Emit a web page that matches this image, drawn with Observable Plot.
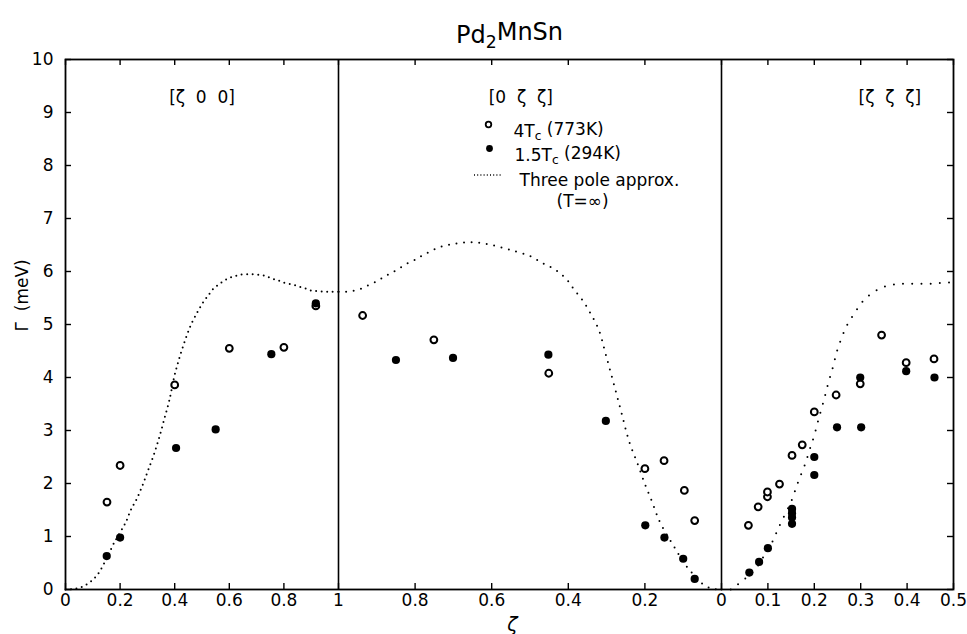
<!DOCTYPE html>
<html><head><meta charset="utf-8">
<script src="https://cdn.jsdelivr.net/npm/d3@7"></script>
<script src="https://cdn.jsdelivr.net/npm/@observablehq/plot@0.6"></script>
<style>body{margin:0;background:#fff;} svg{display:block;}</style>
</head><body><div id="chart"></div>
<script>
// ---------- data (ζ, Γ in meV) ----------
// [ζ 0 0]
const p1OpenZ  = [0.152, 0.20, 0.40, 0.60, 0.80, 0.917];
const p1OpenG  = [1.65, 2.34, 3.86, 4.55, 4.57, 5.35];
const p1FillZ  = [0.151, 0.20, 0.405, 0.55, 0.754, 0.917];
const p1FillG  = [0.63, 0.98, 2.67, 3.02, 4.44, 5.40];
const p1CurveZ = [0, 0.03, 0.06, 0.09, 0.12, 0.15, 0.178, 0.22, 0.241, 0.262, 0.284, 0.302, 0.324, 0.344, 0.363, 0.38, 0.399, 0.419, 0.44, 0.461, 0.483, 0.502, 0.523, 0.541, 0.562, 0.58, 0.60, 0.62, 0.64, 0.68, 0.72, 0.74, 0.761, 0.78, 0.80, 0.84, 0.86, 0.88, 0.90, 0.92, 0.96, 1.0];
const p1CurveG = [0, 0.01, 0.05, 0.14, 0.3, 0.58, 0.88, 1.26, 1.52, 1.72, 1.99, 2.24, 2.55, 2.88, 3.24, 3.56, 4.03, 4.40, 4.73, 5.01, 5.23, 5.40, 5.55, 5.67, 5.76, 5.82, 5.88, 5.91, 5.94, 5.95, 5.93, 5.90, 5.86, 5.83, 5.79, 5.74, 5.71, 5.68, 5.64, 5.63, 5.62, 5.62];
// [0 ζ ζ]
const p2OpenZ  = [0.937, 0.751, 0.451, 0.20, 0.15, 0.097, 0.07];
const p2OpenG  = [5.17, 4.71, 4.08, 2.28, 2.43, 1.87, 1.30];
const p2FillZ  = [0.85, 0.701, 0.452, 0.302, 0.199, 0.149, 0.10, 0.07];
const p2FillG  = [4.33, 4.37, 4.43, 3.18, 1.21, 0.98, 0.58, 0.20];
const p2CurveZ = [1.0, 0.98, 0.959, 0.939, 0.917, 0.898, 0.879, 0.86, 0.839, 0.818, 0.795, 0.778, 0.759, 0.74, 0.719, 0.70, 0.68, 0.661, 0.64, 0.62, 0.60, 0.582, 0.558, 0.543, 0.52, 0.502, 0.482, 0.463, 0.443, 0.422, 0.402, 0.384, 0.365, 0.342, 0.32, 0.302, 0.282, 0.261, 0.241, 0.219, 0.20, 0.181, 0.162, 0.14, 0.119, 0.10, 0.079, 0.06, 0.04, 0.02, 0];
const p2CurveG = [5.62, 5.62, 5.64, 5.68, 5.76, 5.82, 5.91, 5.98, 6.07, 6.16, 6.24, 6.32, 6.38, 6.45, 6.49, 6.52, 6.54, 6.55, 6.55, 6.53, 6.50, 6.47, 6.42, 6.39, 6.34, 6.30, 6.22, 6.14, 6.07, 5.97, 5.83, 5.65, 5.48, 5.21, 4.89, 4.43, 3.90, 3.33, 2.79, 2.37, 1.99, 1.65, 1.29, 1.0, 0.75, 0.52, 0.33, 0.17, 0.06, 0.01, 0];
// [ζ ζ ζ]
const p3OpenZ  = [0.058, 0.079, 0.099, 0.099, 0.125, 0.152, 0.174, 0.20, 0.247, 0.299, 0.345, 0.398, 0.458];
const p3OpenG  = [1.21, 1.56, 1.75, 1.84, 1.99, 2.53, 2.73, 3.35, 3.67, 3.88, 4.80, 4.28, 4.35];
const p3FillZ  = [0.06, 0.081, 0.10, 0.152, 0.152, 0.152, 0.152, 0.20, 0.20, 0.249, 0.301, 0.299, 0.398, 0.459];
const p3FillG  = [0.32, 0.52, 0.78, 1.52, 1.44, 1.36, 1.24, 2.50, 2.16, 3.06, 3.06, 4.00, 4.12, 4.00];
const p3CurveZ = [0, 0.02, 0.03, 0.05, 0.071, 0.09, 0.112, 0.121, 0.131, 0.152, 0.161, 0.17, 0.18, 0.19, 0.20, 0.21, 0.22, 0.23, 0.24, 0.249, 0.259, 0.269, 0.279, 0.29, 0.30, 0.309, 0.318, 0.329, 0.339, 0.349, 0.358, 0.368, 0.377, 0.387, 0.398, 0.418, 0.437, 0.458, 0.478, 0.5];
const p3CurveG = [0, 0.0, 0.06, 0.2, 0.36, 0.61, 0.94, 1.13, 1.31, 1.70, 1.93, 2.14, 2.36, 2.64, 2.91, 3.24, 3.55, 3.89, 4.19, 4.50, 4.75, 4.96, 5.11, 5.26, 5.39, 5.48, 5.55, 5.62, 5.67, 5.71, 5.73, 5.75, 5.76, 5.77, 5.77, 5.77, 5.77, 5.77, 5.79, 5.79];

// tick labels
const yTicks = [0,1,2,3,4,5,6,7,8,9,10];
const p1TickZ = [0, 0.2, 0.4, 0.6, 0.8, 1];
const p1TickL = ["0", "0.2", "0.4", "0.6", "0.8", "1"];
const p2TickZ = [0.8, 0.6, 0.4, 0.2, 0];
const p2TickL = ["0.8", "0.6", "0.4", "0.2", "0"];
const p3TickZ = [0.1, 0.2, 0.3, 0.4, 0.5];
const p3TickL = ["0.1", "0.2", "0.3", "0.4", "0.5"];
const panelNames = ["[ζ  0  0]", "[0  ζ  ζ]", "[ζ  ζ  ζ]"];
const panelNameZ = [0.5, 0.524, 0.363];

// ---------- composite ζ axis (panel lengths along axis) ----------
const L1 = 273, L2 = 383, L3 = 464;
const toU = [z => z * L1, z => L1 + (1 - z) * L2, z => L1 + L2 + z * L3];
const pts = (zs, gs, p) => zs.map((z, i) => ({u: toU[p](z), g: gs[i]}));

const open = [...pts(p1OpenZ, p1OpenG, 0), ...pts(p2OpenZ, p2OpenG, 1), ...pts(p3OpenZ, p3OpenG, 2)];
const filled = [...pts(p1FillZ, p1FillG, 0), ...pts(p2FillZ, p2FillG, 1), ...pts(p3FillZ, p3FillG, 2)];
const c1 = pts(p1CurveZ, p1CurveG, 0), c2 = pts(p2CurveZ, p2CurveG, 1), c3 = pts(p3CurveZ, p3CurveG, 2);
const xTicks = [
  ...p1TickZ.map((z, i) => ({u: toU[0](z), label: p1TickL[i]})),
  ...p2TickZ.map((z, i) => ({u: toU[1](z), label: p2TickL[i]})),
  ...p3TickZ.map((z, i) => ({u: toU[2](z), label: p3TickL[i]}))
];
const panelLabels = panelNames.map((t, i) => ({u: toU[i](panelNameZ[i]), t}));
const dividers = [toU[0](1), toU[2](0)];

const W = 967, H = 634, mL = 65, mR = 14, mT = 59, mB = 45;
const fw = W - mL - mR, fh = H - mT - mB;
const font = "DejaVu Sans";

const curveStyle = (dash) => ({x: "u", y: "g", stroke: "black", strokeWidth: 2, strokeLinecap: "round", strokeDasharray: dash, curve: "catmull-rom"});

const svg = Plot.plot({
  width: W, height: H,
  marginLeft: mL, marginRight: mR, marginTop: mT, marginBottom: mB,
  style: {fontFamily: font, background: "white", color: "black"},
  x: {domain: [0, toU[2](0.5)], axis: null},
  y: {domain: [0, 10], axis: null},
  marks: [
    Plot.frame({stroke: "black", strokeWidth: 1.8}),
    Plot.ruleX(dividers, {stroke: "black", strokeWidth: 1.6}),
    Plot.tickY(yTicks, {y: d => d, insetRight: fw - 6, strokeWidth: 1.4}),
    Plot.tickY(yTicks, {y: d => d, insetLeft: fw - 6, strokeWidth: 1.4}),
    Plot.tickX(xTicks, {x: "u", insetTop: fh - 6, strokeWidth: 1.4}),
    Plot.tickX(xTicks, {x: "u", insetBottom: fh - 6, strokeWidth: 1.4}),
    Plot.text(yTicks, {y: d => d, text: d => String(d), frameAnchor: "left", dx: -12, textAnchor: "end", fontSize: 17}),
    Plot.text(xTicks, {x: "u", text: "label", frameAnchor: "bottom", dy: 16, fontSize: 17}),
    Plot.text(panelLabels, {x: "u", text: "t", frameAnchor: "top", dy: 31, fontSize: 17}),
    Plot.line(c1, curveStyle("0 5.5")),
    Plot.line(c2, curveStyle("0 7.6")),
    Plot.line(c3, curveStyle("0 9.2")),
    Plot.dot(open, {x: "u", y: "g", r: 3.4, stroke: "black", strokeWidth: 2, fill: "white"}),
    Plot.dot(filled, {x: "u", y: "g", r: 4.1, fill: "black", stroke: "none"}),
    // legend
    Plot.dot([0], {frameAnchor: "top-left", dx: 423, dy: 65, r: 2.8, stroke: "black", strokeWidth: 1.8, fill: "white"}),
    Plot.dot([0], {frameAnchor: "top-left", dx: 424, dy: 89, r: 3.4, fill: "black"}),
    Plot.text(["4T_c (773K)"], {frameAnchor: "top-left", dx: 448, dy: 65, textAnchor: "start", fontSize: 17}),
    Plot.text(["1.5T_c (294K)"], {frameAnchor: "top-left", dx: 449, dy: 89, textAnchor: "start", fontSize: 17}),
    Plot.text(["Three pole approx."], {frameAnchor: "top-left", dx: 454, dy: 114, textAnchor: "start", fontSize: 17}),
    Plot.text(["(T=∞)"], {frameAnchor: "top-left", dx: 491, dy: 135, textAnchor: "start", fontSize: 17}),
    // titles
    Plot.text(["Pd_2MnSn"], {frameAnchor: "top", dy: -34, fontSize: 24}),
    Plot.text(["Γ  (meV)"], {frameAnchor: "left", dx: -43, dy: 7, rotate: -90, fontSize: 17}),
    Plot.text(["ζ"], {frameAnchor: "bottom", dx: 3, dy: 41, fontSize: 19, fontStyle: "italic"})
  ]
});

// subscripts
d3.select(svg).selectAll("text").each(function() {
  const t = this.textContent;
  const m = t.match(/^(.*)_(\w)(.*)$/);
  if (!m) return;
  const sel = d3.select(this);
  sel.text(null);
  sel.append("tspan").text(m[1]);
  sel.append("tspan").attr("dy", "0.32em").attr("font-size", "72%").text(m[2]);
  sel.append("tspan").attr("dy", "-0.32em").text(m[3]);
});
// legend swatch for dotted line
d3.select(svg).append("line")
  .attr("x1", mL + 409).attr("x2", mL + 436)
  .attr("y1", mT + 116).attr("y2", mT + 116)
  .attr("stroke", "black").attr("stroke-width", 1.4)
  .attr("stroke-dasharray", "1 2.2");

document.getElementById("chart").appendChild(svg);
</script>
</body></html>
